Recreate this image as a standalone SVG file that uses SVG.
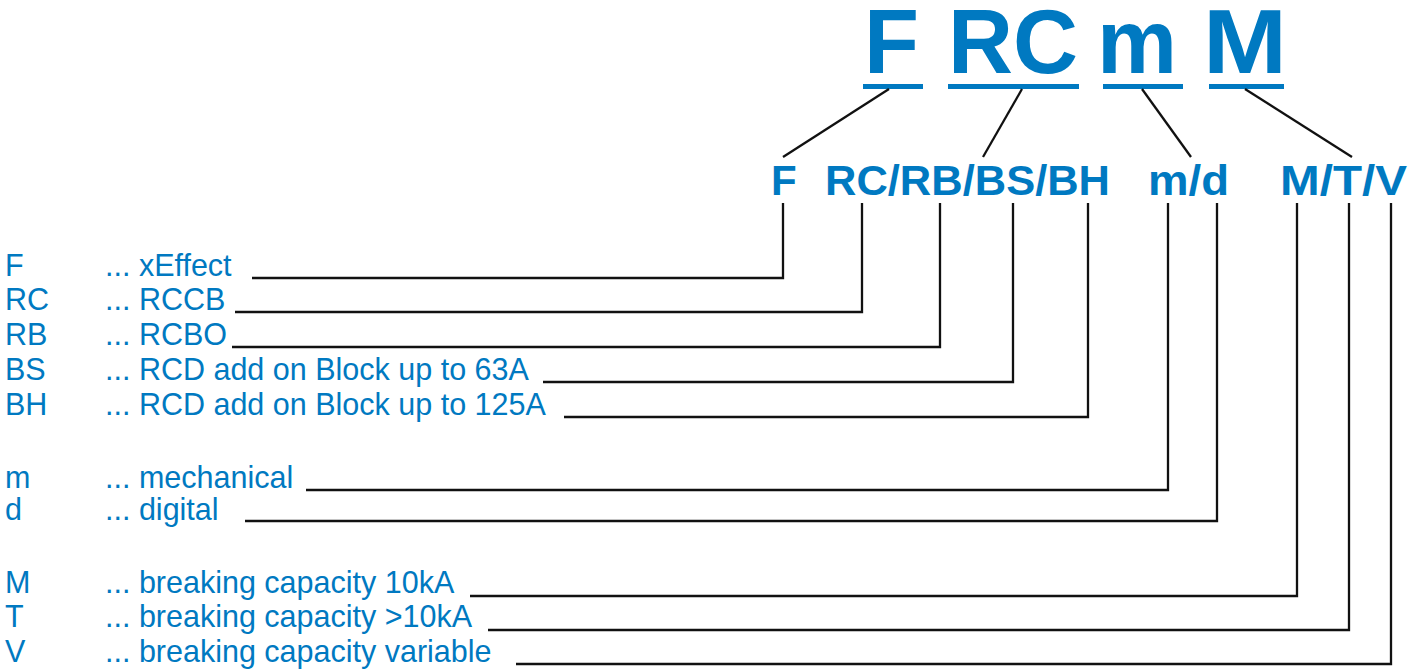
<svg xmlns="http://www.w3.org/2000/svg" width="1423" height="670" viewBox="0 0 1423 670">
<style>
.big{font-family:"Liberation Sans",Arial,sans-serif;font-weight:bold;font-size:90px;fill:#0079C1}
.lab{font-family:"Liberation Sans",Arial,sans-serif;font-weight:bold;font-size:42px;fill:#0079C1}
.txt{font-family:"Liberation Sans",Arial,sans-serif;font-size:30.5px;fill:#0079C1}
.ul{fill:#0079C1}
.ln{stroke:#111;stroke-width:2.3;fill:none;stroke-linecap:butt}
</style>
<rect width="1423" height="670" fill="#fff"/>
<g id="code">
  <text class="big" x="864" y="73">F</text>
  <text class="big" x="948" y="73" textLength="130" lengthAdjust="spacingAndGlyphs">RC</text>
  <text class="big" x="1097" y="73">m</text>
  <text class="big" x="1203" y="73" textLength="84" lengthAdjust="spacingAndGlyphs">M</text>
  <rect class="ul" x="863" y="84" width="60" height="5"/>
  <rect class="ul" x="948" y="84" width="131" height="5"/>
  <rect class="ul" x="1103" y="84" width="80" height="5"/>
  <rect class="ul" x="1209" y="84" width="75" height="5"/>
</g>
<g id="labels">
  <text class="lab" x="771" y="195">F</text>
  <text class="lab" x="825" y="195" textLength="285" lengthAdjust="spacingAndGlyphs">RC/RB/BS/BH</text>
  <text class="lab" x="1148" y="195" textLength="81" lengthAdjust="spacingAndGlyphs">m/d</text>
  <text class="lab" x="1280" y="195" textLength="127" lengthAdjust="spacingAndGlyphs">M/T/V</text>
</g>
<g id="legend">
  <text class="txt" x="5" y="276">F</text><text class="txt" x="105" y="276">... xEffect</text>
  <text class="txt" x="5" y="310">RC</text><text class="txt" x="105" y="310">... RCCB</text>
  <text class="txt" x="5" y="345">RB</text><text class="txt" x="105" y="345">... RCBO</text>
  <text class="txt" x="5" y="380">BS</text><text class="txt" x="105" y="380">... RCD add on Block up to 63A</text>
  <text class="txt" x="5" y="415">BH</text><text class="txt" x="105" y="415">... RCD add on Block up to 125A</text>
  <text class="txt" x="5" y="488">m</text><text class="txt" x="105" y="488">... mechanical</text>
  <text class="txt" x="5" y="520">d</text><text class="txt" x="105" y="520">... digital</text>
  <text class="txt" x="5" y="593">M</text><text class="txt" x="105" y="593">... breaking capacity 10kA</text>
  <text class="txt" x="5" y="627">T</text><text class="txt" x="105" y="627">... breaking capacity &gt;10kA</text>
  <text class="txt" x="5" y="662">V</text><text class="txt" x="105" y="662">... breaking capacity variable</text>
</g>
<g id="connectors">
  <line class="ln" x1="889" y1="89" x2="783" y2="157"/>
  <line class="ln" x1="1022" y1="89" x2="983" y2="157"/>
  <line class="ln" x1="1142" y1="89" x2="1191" y2="157"/>
  <line class="ln" x1="1245" y1="89" x2="1352" y2="157"/>
  <polyline class="ln" points="783,203 783,278 252,278"/>
  <polyline class="ln" points="862,203 862,312 235,312"/>
  <polyline class="ln" points="940,203 940,347 232,347"/>
  <polyline class="ln" points="1013,203 1013,382 543,382"/>
  <polyline class="ln" points="1088,203 1088,417 564,417"/>
  <polyline class="ln" points="1168,203 1168,490 306,490"/>
  <polyline class="ln" points="1217,203 1217,521 245,521"/>
  <polyline class="ln" points="1297,203 1297,596 470,596"/>
  <polyline class="ln" points="1349,203 1349,630 488,630"/>
  <polyline class="ln" points="1391,203 1391,664 516,664"/>
</g>
</svg>
